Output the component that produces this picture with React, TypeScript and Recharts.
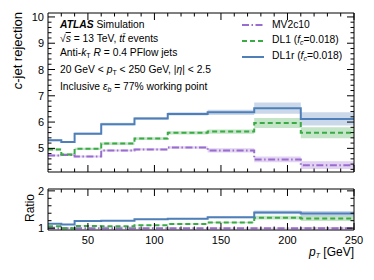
import React from 'react';
import { ComposedChart, Line, Area, XAxis, YAxis } from 'recharts';

// bin edges in pT [GeV]
const binEdges = [20, 30, 40, 60, 85, 110, 140, 175, 210, 250];

// c-jet rejection per bin
const mv2c10 = [4.73, 4.75, 4.69, 4.92, 4.96, 5.03, 4.92, 4.58, 4.36];
const mv2c10Err = [0.04, 0.04, 0.04, 0.04, 0.04, 0.05, 0.08, 0.11, 0.15];
const dl1 = [4.96, 4.77, 4.98, 5.18, 5.37, 5.59, 5.64, 5.96, 5.59];
const dl1Err = [0.04, 0.04, 0.04, 0.05, 0.05, 0.06, 0.08, 0.19, 0.21];
const dl1r = [5.31, 5.24, 5.56, 5.92, 6.14, 6.31, 6.37, 6.53, 6.12];
const dl1rErr = [0.04, 0.04, 0.04, 0.05, 0.05, 0.06, 0.1, 0.21, 0.25];

// ratio to MV2c10
const mv2c10Ratio = [1, 1, 1, 1, 1, 1, 1, 1, 1];
const mv2c10RatioErr = [0.01, 0.01, 0.01, 0.01, 0.01, 0.01, 0.015, 0.02, 0.03];
const dl1Ratio = [1.05, 1.0, 1.06, 1.05, 1.08, 1.11, 1.15, 1.28, 1.26];
const dl1RatioErr = [0.01, 0.01, 0.01, 0.01, 0.01, 0.015, 0.02, 0.05, 0.07];
const dl1rRatio = [1.12, 1.1, 1.19, 1.2, 1.24, 1.25, 1.29, 1.42, 1.39];
const dl1rRatioErr = [0.01, 0.01, 0.01, 0.01, 0.015, 0.015, 0.025, 0.05, 0.07];

// ticks
const xTicks = [30, 40, 50, 60, 70, 80, 90, 100, 110, 120, 130, 140, 150, 160, 170, 180, 190, 200, 210, 220, 230, 240, 250];
const xMajor = [50, 100, 150, 200, 250];
const topTicks = [4.2, 4.4, 4.6, 4.8, 5, 5.2, 5.4, 5.6, 5.8, 6, 6.2, 6.4, 6.6, 6.8, 7, 7.2, 7.4, 7.6, 7.8, 8, 8.2, 8.4, 8.6, 8.8, 9, 9.2, 9.4, 9.6, 9.8, 10];
const topMajor = [5, 6, 7, 8, 9, 10];
const ratioTicks = [1, 1.2, 1.4, 1.6, 1.8, 2];
const ratioMajor = [1, 2];

const BLUE = '#4f7fb8';
const GREEN = '#3aaa45';
const PURPLE = '#9a6ccf';
const FONT = '"Liberation Sans", Arial, sans-serif';

function buildRows(a: number[], ae: number[], b: number[], be: number[], c: number[], ce: number[]) {
  return binEdges.map((x, i) => {
    const j = Math.min(i, a.length - 1);
    return {
      x,
      mv: a[j],
      mvBand: [a[j] - ae[j], a[j] + ae[j]],
      dl1: b[j],
      dl1Band: [b[j] - be[j], b[j] + be[j]],
      dl1r: c[j],
      dl1rBand: [c[j] - ce[j], c[j] + ce[j]],
    };
  });
}

const topRows = buildRows(mv2c10, mv2c10Err, dl1, dl1Err, dl1r, dl1rErr);
const ratioRows = buildRows(mv2c10Ratio, mv2c10RatioErr, dl1Ratio, dl1RatioErr, dl1rRatio, dl1rRatioErr);

const makeTick = (side: string, majors: number[], labels: boolean) => (props: any) => {
  const { x, y, payload } = props;
  const v = payload.value;
  const major = majors.some((m) => Math.abs(m - v) < 1e-6);
  const len = major ? 7 : 3.5;
  let line;
  if (side === 'bottom') line = <line x1={x} y1={y} x2={x} y2={y - len} stroke="#000" />;
  else if (side === 'top') line = <line x1={x} y1={y} x2={x} y2={y + len} stroke="#000" />;
  else if (side === 'left') line = <line x1={x} y1={y} x2={x + len} y2={y} stroke="#000" />;
  else line = <line x1={x} y1={y} x2={x - len} y2={y} stroke="#000" />;
  return (
    <g>
      {line}
      {labels && major && side === 'bottom' && (
        <text x={x} y={y + 14} textAnchor="middle" fontSize={11} fontFamily={FONT} fill="#000">{v}</text>
      )}
      {labels && major && side === 'left' && (
        <text x={x - 4} y={y + 4} textAnchor="end" fontSize={11} fontFamily={FONT} fill="#000">{v}</text>
      )}
    </g>
  );
};

function Series() {
  return [
    <Area key="b1" dataKey="mvBand" type="stepAfter" stroke="none" fill={PURPLE} fillOpacity={0.3} isAnimationActive={false} />,
    <Area key="b2" dataKey="dl1Band" type="stepAfter" stroke="none" fill={GREEN} fillOpacity={0.3} isAnimationActive={false} />,
    <Area key="b3" dataKey="dl1rBand" type="stepAfter" stroke="none" fill={BLUE} fillOpacity={0.3} isAnimationActive={false} />,
    <Line key="l1" dataKey="mv" type="stepAfter" stroke={PURPLE} strokeWidth={2} strokeDasharray="7 2.5 1.5 2.5" dot={false} isAnimationActive={false} />,
    <Line key="l2" dataKey="dl1" type="stepAfter" stroke={GREEN} strokeWidth={2} strokeDasharray="5 3" dot={false} isAnimationActive={false} />,
    <Line key="l3" dataKey="dl1r" type="stepAfter" stroke={BLUE} strokeWidth={2} dot={false} isAnimationActive={false} />,
  ];
}

// axes are 1px thick so that Recharts draws them; ticks point inward
function Axes(yDomain: number[], yTicks: number[], yMajor: number[], xLabels: boolean) {
  return [
    <XAxis key="xb" dataKey="x" type="number" domain={[20, 250]} ticks={xTicks} interval={0} height={1}
      tickSize={0} tickMargin={0} axisLine={{ stroke: '#000' }} tickLine={false} allowDataOverflow
      tick={makeTick('bottom', xMajor, xLabels)} />,
    <XAxis key="xt" xAxisId="top" orientation="top" dataKey="x" type="number" domain={[20, 250]} ticks={xTicks} interval={0}
      height={1} tickSize={0} tickMargin={0} axisLine={{ stroke: '#000' }} tickLine={false} allowDataOverflow
      tick={makeTick('top', xMajor, false)} />,
    <YAxis key="yl" type="number" domain={yDomain} ticks={yTicks} interval={0} width={1} tickSize={0} tickMargin={0}
      axisLine={{ stroke: '#000' }} tickLine={false} allowDataOverflow tick={makeTick('left', yMajor, true)} />,
    <YAxis key="yr" yAxisId="right" orientation="right" type="number" domain={yDomain} ticks={yTicks} interval={0} width={1}
      tickSize={0} tickMargin={0} axisLine={{ stroke: '#000' }} tickLine={false} allowDataOverflow
      tick={makeTick('right', yMajor, false)} />,
  ];
}

const sub = { fontSize: '7px', verticalAlign: '-2px' } as const;

export default function App() {
  return (
    <div style={{ position: 'absolute', left: 0, top: 0, width: 374, height: 280, background: '#fff', fontFamily: FONT }}>
      <div style={{ position: 'absolute', left: 0, top: 0 }}>
        <ComposedChart width={374} height={180} data={topRows} margin={{ top: 12, right: 19, bottom: 7, left: 47 }}>
          {Axes([4.1, 10.15], topTicks, topMajor, false)}
          {Series()}
        </ComposedChart>
      </div>
      <div style={{ position: 'absolute', left: 0, top: 180 }}>
        <ComposedChart width={374} height={100} data={ratioRows} margin={{ top: 8, right: 19, bottom: 49, left: 47 }}>
          {Axes([0.95, 2.05], ratioTicks, ratioMajor, true)}
          {Series()}
        </ComposedChart>
      </div>

      {/* axis titles */}
      <div style={{ position: 'absolute', left: 17, top: 12, width: 0, height: 0 }}>
        <div style={{ position: 'absolute', right: 0, top: 0, transform: 'rotate(-90deg) translate(0, -50%)', transformOrigin: 'right top', whiteSpace: 'nowrap', fontSize: 13 }}>
          <i>c</i>-jet rejection
        </div>
      </div>
      <div style={{ position: 'absolute', left: 30, top: 208, width: 0, height: 0 }}>
        <div style={{ position: 'absolute', left: 0, top: 0, transform: 'translate(-50%, -50%) rotate(-90deg)', whiteSpace: 'nowrap', fontSize: 12 }}>
          Ratio
        </div>
      </div>
      <div style={{ position: 'absolute', right: 20, top: 245, fontSize: 12, whiteSpace: 'nowrap' }}>
        <i>p</i><i style={sub}>T</i> [GeV]
      </div>

      {/* ATLAS label */}
      <div style={{ position: 'absolute', left: 60, top: 18, fontSize: 10.3, lineHeight: '14.1px', whiteSpace: 'nowrap' }}>
        <div><b><i>ATLAS</i></b> Simulation</div>
        <div>√<span style={{ textDecoration: 'overline' }}><i>s</i></span> = 13 TeV, <i>t</i><i>t̄</i> events</div>
        <div>Anti-<i>k</i><span style={sub}>T</span> <i>R</i> = 0.4 PFlow jets</div>
        <div>20 GeV &lt; <i>p</i><span style={sub}>T</span> &lt; 250 GeV, |<i>η</i>| &lt; 2.5</div>
        <div>Inclusive <i>ε</i><i style={sub}>b</i> = 77% working point</div>
      </div>

      {/* legend */}
      <div style={{ position: 'absolute', left: 242, top: 17, fontSize: 10.3, lineHeight: '16px', whiteSpace: 'nowrap' }}>
        {[
          { c: PURPLE, d: '7 2.5 1.5 2.5', t: <>MV2c10</> },
          { c: GREEN, d: '5 3', t: <>DL1 (<i>f</i><i style={sub}>c</i>=0.018)</> },
          { c: BLUE, d: undefined, t: <>DL1r (<i>f</i><i style={sub}>c</i>=0.018)</> },
        ].map((e, i) => (
          <div key={i} style={{ display: 'flex', alignItems: 'center', height: 16 }}>
            <svg width={22} height={6} style={{ marginRight: 8 }}>
              <line x1={0} y1={3} x2={22} y2={3} stroke={e.c} strokeWidth={2} strokeDasharray={e.d} />
            </svg>
            <span>{e.t}</span>
          </div>
        ))}
      </div>
    </div>
  );
}
